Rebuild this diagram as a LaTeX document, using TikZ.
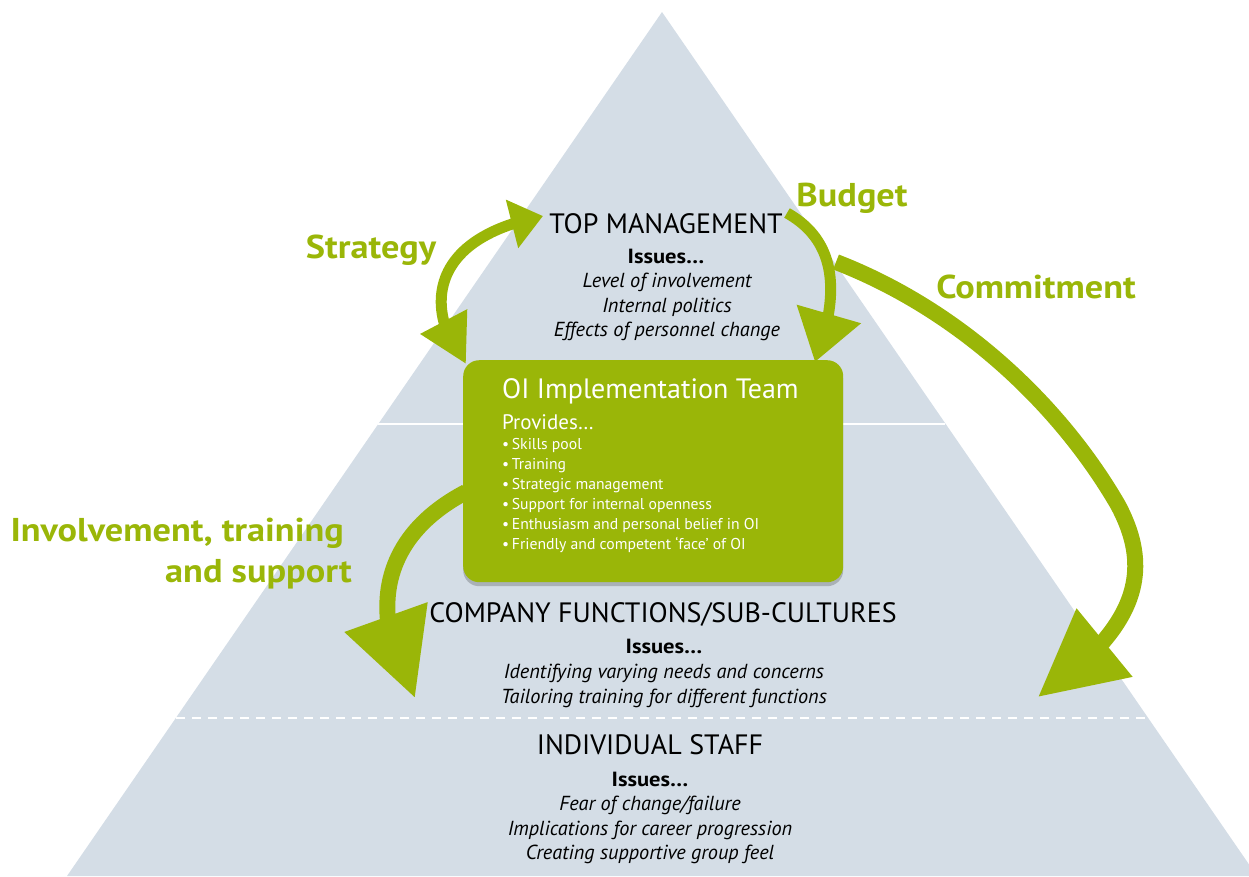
\documentclass[tikz,border=0pt]{standalone}
\usepackage{fontspec}
\setmainfont{PT Sans}
\newfontfamily\widefont{PT Sans}[FakeStretch=1.1]
\usetikzlibrary{arrows.meta,bending,shadows}
\definecolor{oigreen}{RGB}{154,182,8}
\definecolor{pyrblue}{RGB}{212,221,230}
\tikzset{
  lvltitle/.style={anchor=base,inner sep=0pt,font=\fontsize{28}{32}\selectfont},
  issuehead/.style={anchor=base,inner sep=0pt,font=\widefont\fontsize{20.5}{24}\selectfont\bfseries},
  issueline/.style={anchor=base,inner sep=0pt,font=\fontsize{20.3}{24}\selectfont\itshape},
  grnlabel/.style={anchor=base,inner sep=0pt,text=oigreen,font=\widefont\fontsize{33}{36}\selectfont\bfseries},
  flow/.style={draw=oigreen,line width=#1},
  teambox/.style={fill=oigreen,rounded corners=16pt,
    drop shadow={shadow xshift=0pt,shadow yshift=-4pt,opacity=.3,fill=black!70}},
  teamtext/.style={anchor=base west,inner sep=0pt,text=white},
}
\begin{document}
\begin{tikzpicture}[x=1pt,y=-1pt,line join=round]
        \useasboundingbox (0,0) rectangle (1249,876);
        \clip (0,0) rectangle (1249,876);
        % pyramid and level borders
        \fill[pyrblue] (662,12) -- (1257,876) -- (67,876) -- cycle;
        \draw[white,line width=2.5pt] (378,424) -- (945,424);
        \draw[white,line width=2pt,dash pattern=on 9pt off 7pt] (176,718) -- (1150,718);
        % arrows
        \coordinate (strat-a) at (466,364);
        \coordinate (strat-b) at (543,216);
        \coordinate (budg-a) at (787,213);
        \coordinate (budg-b) at (815,362);
        \coordinate (comm-a) at (836,262);
        \coordinate (comm-m) at (1118,505);
        \coordinate (comm-b) at (1038,697);
        \coordinate (invo-a) at (466,492);
        \coordinate (invo-b) at (415,698);
        \draw[flow=11pt,{Triangle[length=48pt,width=50pt]}-{Triangle[length=32pt,width=48pt]}]
            (strat-a) .. controls (428,318) and (420,240) .. (strat-b);
        \draw[flow=11pt,-{Triangle[length=50pt,width=64pt]}]
            (budg-a) .. controls (835,240) and (842,290) .. (budg-b);
        \draw[flow=16pt,-{Triangle[length=86pt,width=84pt]}]
            (comm-a) .. controls (960,310) and (1060,405) .. (comm-m)
            .. controls (1150,565) and (1145,625) .. (comm-b);
        \draw[flow=16pt,-{Triangle[length=86pt,width=84pt]}]
            (invo-a) .. controls (375,540) and (370,620) .. (invo-b);
        % team box
        \node[teambox,minimum width=380pt,minimum height=222pt,anchor=north west,inner sep=0pt] (team) at (463,360) {};
        \node[teamtext,font=\fontsize{28}{30}\selectfont] (teamtitle) at (502,398) {OI Implementation Team};
        \node[teamtext,font=\fontsize{21}{24}\selectfont] (provides) at (502,429) {Provides…};
        \foreach \t [count=\i] in {Skills pool,Training,Strategic management,Support for internal openness,
            Enthusiasm and personal belief in OI,Friendly and competent ‘face’ of OI}
            \node[teamtext,font=\fontsize{15.7}{18}\selectfont] (prov\i) at (502,429+20*\i) {\textbullet\,\t};
        % levels
        \node[lvltitle] (top) at (666,233) {TOP MANAGEMENT};
        \node[issuehead] (topiss) at (666,263) {Issues…};
        \foreach \t [count=\i] in {Level of involvement,Internal politics,Effects of personnel change}
            \node[issueline] (topl\i) at (667,263+24.5*\i) {\t};
        \node[lvltitle] (func) at (663,622) {COMPANY FUNCTIONS/SUB-CULTURES};
        \node[issuehead] (funciss) at (664,653) {Issues…};
        \foreach \t [count=\i] in {Identifying varying needs and concerns,Tailoring training for different functions}
            \node[issueline] (funcl\i) at (664,653+25*\i) {\t};
        \node[lvltitle] (staff) at (650,754) {INDIVIDUAL STAFF};
        \node[issuehead] (staffiss) at (650,786) {Issues…};
        \foreach \t [count=\i] in {Fear of change/failure,Implications for career progression,Creating supportive group feel}
            \node[issueline] (staffl\i) at (650,786+24.6*\i) {\t};
        % arrow labels
        \node[grnlabel] (strategy) at (371,258) {Strategy};
        \node[grnlabel] (budget) at (852,206) {Budget};
        \node[grnlabel] (commit) at (1036,298) {Commitment};
        \node[grnlabel,anchor=base east] (invol1) at (344,541) {Involvement, training};
        \node[grnlabel,anchor=base east] (invol2) at (352,582) {and support};
    \end{tikzpicture}
\end{document}
